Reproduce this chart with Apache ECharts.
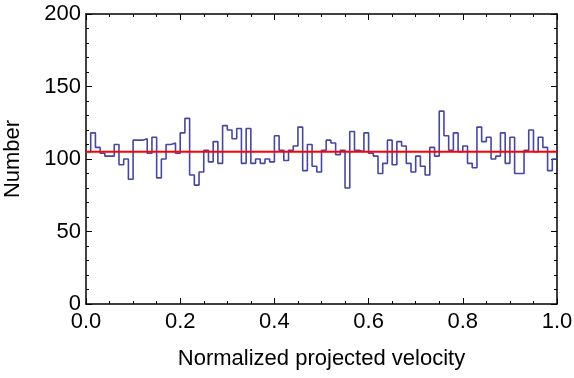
<!DOCTYPE html>
<html>
<head>
<meta charset="utf-8">
<script src="https://cdn.jsdelivr.net/npm/echarts@6/dist/echarts.min.js"></script>
<style>
  html, body { margin: 0; padding: 0; background: #fff; }
  #chart { width: 574px; height: 378px; }
</style>
</head>
<body>
<div id="chart"></div>
<script>
// histogram counts, 100 bins across [0, 1]
const counts = [
  105, 118, 108, 104, 102, 102, 110, 96, 100, 86,
  113, 113, 114, 104, 115, 87, 100, 110, 111, 104,
  118, 128, 89, 82, 91, 106, 98, 112, 97, 123,
  120, 114, 121, 97, 121, 97, 100, 97, 100, 98,
  116, 106, 99, 106, 109, 122, 92, 110, 95, 91,
  106, 113, 111, 103, 106, 80, 119, 106, 105, 118,
  104, 102, 90, 97, 113, 96, 112, 109, 97, 91,
  102, 95, 89, 108, 102, 133, 116, 106, 118, 105,
  109, 97, 94, 122, 112, 115, 100, 102, 118, 97,
  115, 90, 90, 106, 120, 105, 115, 108, 92, 100
];
const binWidth = 0.01;
const meanLevel = 105;
const xTicks = ["0.0", "0.2", "0.4", "0.6", "0.8", "1.0"];

// step points: left edge of each bin, plus closing point at x = 1
const stepData = counts.map((c, i) => [+(i * binWidth).toFixed(2), c]);
stepData.push([1, counts[counts.length - 1]]);

const chart = echarts.init(document.getElementById("chart"));
const font = "'Liberation Sans', Arial, sans-serif";
const axisLine = { show: true, onZero: false, lineStyle: { color: "#000", width: 1.5 } };
const tick = { show: true, inside: true, length: 6, lineStyle: { color: "#000" } };
const minor = n => ({ show: true, splitNumber: n, length: 3, lineStyle: { color: "#000" } });

chart.setOption({
  animation: false,
  grid: { left: 86, right: 17, top: 14, bottom: 74, containLabel: false, outerBoundsMode: "none" },
  xAxis: [
    {
      type: "value", min: 0, max: 1, interval: 0.2,
      axisLine: axisLine, axisTick: tick, minorTick: minor(4),
      splitLine: { show: false },
      axisLabel: {
        color: "#000", fontSize: 22, fontFamily: font, margin: 7,
        formatter: v => xTicks[Math.round(v / 0.2)]
      },
      name: "Normalized projected velocity",
      nameLocation: "middle", nameGap: 44,
      nameTextStyle: { color: "#000", fontSize: 22, fontFamily: font }
    },
    {
      type: "value", min: 0, max: 1, interval: 0.2, position: "top",
      axisLine: axisLine, axisTick: tick, minorTick: minor(4),
      splitLine: { show: false },
      axisLabel: { show: false }
    }
  ],
  yAxis: [
    {
      type: "value", min: 0, max: 200, interval: 50,
      axisLine: axisLine, axisTick: tick, minorTick: minor(5),
      splitLine: { show: false },
      axisLabel: { color: "#000", fontSize: 22, fontFamily: font, margin: 5 },
      name: "Number",
      nameLocation: "middle", nameGap: 62, nameRotate: 90,
      nameTextStyle: { color: "#000", fontSize: 22, fontFamily: font }
    },
    {
      type: "value", min: 0, max: 200, interval: 50, position: "right",
      axisLine: axisLine, axisTick: tick, minorTick: minor(5),
      splitLine: { show: false },
      axisLabel: { show: false }
    }
  ],
  series: [
    {
      type: "line",
      step: "end",
      data: stepData,
      symbol: "none",
      lineStyle: { color: "#4646a6", width: 1.6 },
      z: 2
    },
    {
      type: "line",
      data: [[0, meanLevel], [1, meanLevel]],
      symbol: "none",
      lineStyle: { color: "#ff0000", width: 2 },
      z: 3
    }
  ]
});
</script>
</body>
</html>
